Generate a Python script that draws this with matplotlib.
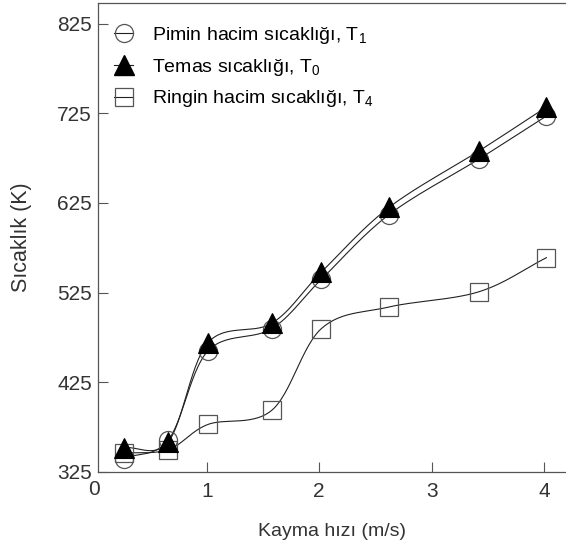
import matplotlib
matplotlib.use("Agg")
import matplotlib.pyplot as plt
import numpy as np

plt.rcParams['font.family'] = ['Liberation Sans', 'DejaVu Sans']
plt.rcParams['mathtext.fontset'] = 'custom'
plt.rcParams['mathtext.rm'] = 'Liberation Sans'

# kayma hizi (m/s)
hiz = [0.26, 0.66, 1.01, 1.58, 2.02, 2.62, 3.42, 4.02]
# sicakliklar (K)
t1 = [340, 361, 460, 485, 540, 612, 674, 722]   # pimin hacim sicakligi
t0 = [352, 359, 469, 491, 548, 620, 683, 732]   # temas sicakligi
t4 = [346, 350, 378, 394, 485, 509, 526, 564]   # ringin hacim sicakligi

yticks = [325, 425, 525, 625, 725, 825]
xticks = [1, 2, 3, 4]


def smooth(x, y, n=30):
    # catmull-rom curve through the points, only for drawing the line
    x = np.asarray(x, float)
    y = np.asarray(y, float)
    px = np.concatenate([[2 * x[0] - x[1]], x, [2 * x[-1] - x[-2]]])
    py = np.concatenate([[2 * y[0] - y[1]], y, [2 * y[-1] - y[-2]]])
    xs, ys = [], []
    t = np.linspace(0, 1, n)
    for i in range(1, len(px) - 2):
        for p, out in ((px, xs), (py, ys)):
            p0, p1, p2, p3 = p[i - 1], p[i], p[i + 1], p[i + 2]
            out.extend(0.5 * (2 * p1 + (-p0 + p2) * t
                              + (2 * p0 - 5 * p1 + 4 * p2 - p3) * t ** 2
                              + (-p0 + 3 * p1 - 3 * p2 + p3) * t ** 3))
    return xs, ys


fig = plt.figure(figsize=(5.66, 5.48), dpi=100)
ax = fig.add_axes([0.1723, 0.1387, 0.8277, 0.8558])

lc = '#222222'
ec = '#555555'
for y in (t1, t0, t4):
    sx, sy = smooth(hiz, y)
    ax.plot(sx, sy, color=lc, lw=0.8, zorder=2)

ax.plot(hiz, t1, ls='none', marker='o', ms=13, mfc='none', mec=ec, mew=0.9, zorder=3)
ax.plot(hiz, t0, ls='none', marker='^', ms=14, mfc='black', mec='black', mew=0.8, zorder=4)
ax.plot(hiz, t4, ls='none', marker='s', ms=13, mfc='none', mec=ec, mew=0.9, zorder=3)

# legend handles: line just as wide as the marker
h1, = ax.plot([], [], color=lc, lw=0.8, marker='o', ms=13, mfc='none', mec=ec, mew=0.9)
h0, = ax.plot([], [], color=lc, lw=0.8, marker='^', ms=14, mfc='black', mec='black')
h4, = ax.plot([], [], color=lc, lw=0.8, marker='s', ms=13, mfc='none', mec=ec, mew=0.9)
ax.legend([h1, h0, h4],
          ['Pimin hacim sıcaklığı, T$_\\mathregular{1}$',
           'Temas sıcaklığı, T$_\\mathregular{0}$',
           'Ringin hacim sıcaklığı, T$_\\mathregular{4}$'],
          loc='upper left', bbox_to_anchor=(0.011, 0.978), frameon=False,
          fontsize=14, handlelength=0.95, handletextpad=1.0,
          labelspacing=0.55, borderpad=0.3, borderaxespad=0.3)

ax.set_xlim(0.029, 4.194)
ax.set_ylim(325, 848)
ax.set_xticks(xticks)
ax.set_yticks(yticks)
ax.tick_params(direction='in', length=7, width=0.8, colors='#555555',
               labelcolor='#333333', labelsize=15)
ax.tick_params(axis='x', pad=7)
ax.tick_params(axis='y', pad=4)
ax.text(0, -0.018, '0', transform=ax.get_xaxis_transform(), ha='center', va='top',
        fontsize=15, color='#333333')

for s in ('left', 'bottom', 'top'):
    ax.spines[s].set_color('#555555')
    ax.spines[s].set_linewidth(0.9)
ax.spines['right'].set_visible(False)

ax.set_xlabel('Kayma hızı (m/s)', fontsize=14, color='#333333', labelpad=16)
ax.set_ylabel('Sıcaklık (K)', fontsize=15.5, color='#333333', labelpad=18)

fig.savefig('out.png', dpi=100)
